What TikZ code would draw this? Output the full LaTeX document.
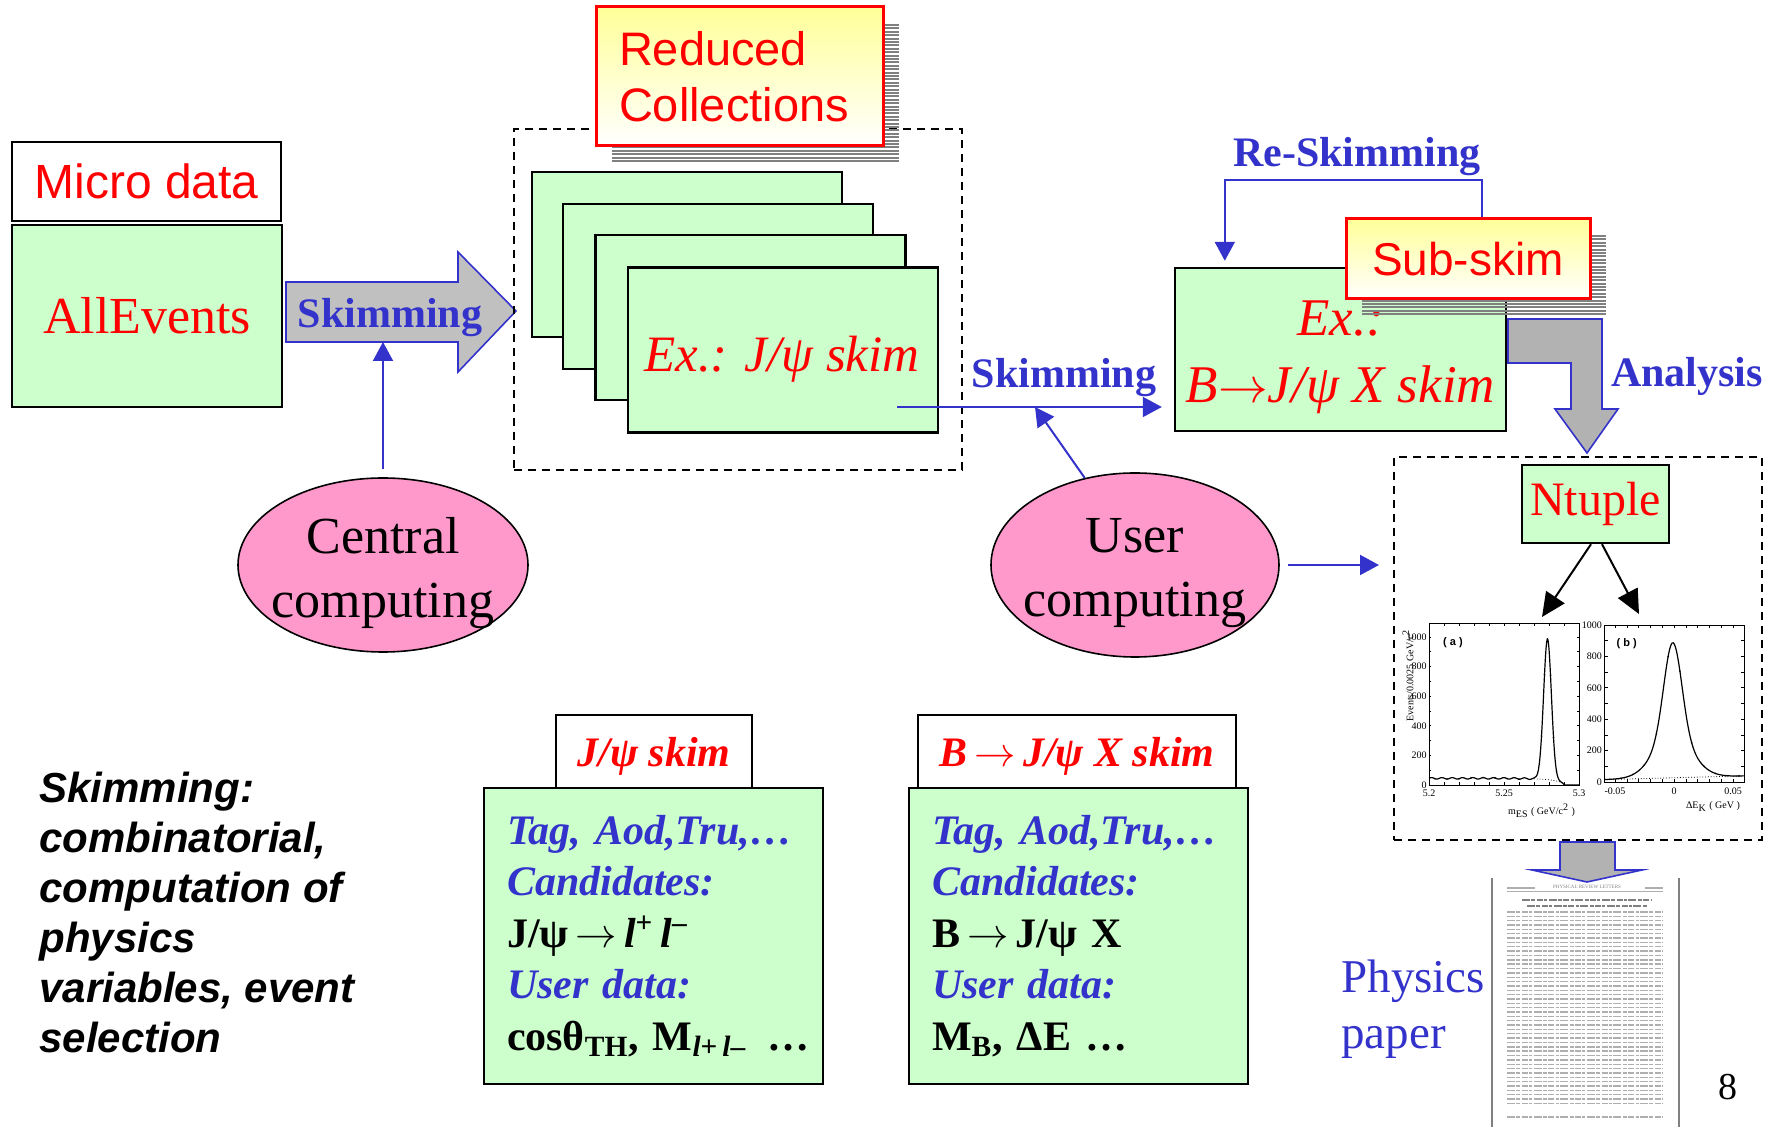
\documentclass[tikz,border=0pt]{standalone}
\usepackage{fontspec}
\setmainfont{Liberation Serif}
\setsansfont{Liberation Sans}
\usetikzlibrary{
    shapes.geometric,
    arrows.meta,
    positioning,
    calc
}
\definecolor{boxGreen}{RGB}{204, 255, 204}
\definecolor{ovalPink}{RGB}{255, 153, 204}
\definecolor{lineBlue}{RGB}{51, 51, 204}
\definecolor{textRed}{RGB}{255, 0, 0}
\definecolor{noteYellow}{RGB}{255, 255, 153}
\definecolor{arrowGrey}{RGB}{192, 192, 192}
\definecolor{arrowGreyDark}{RGB}{178, 178, 178}
\definecolor{shadowGrey}{RGB}{128, 128, 128}
\definecolor{paperInk}{RGB}{175, 175, 175}
\tikzset{
    dataBox/.style={
        rectangle, draw=black, line width=1.2pt, fill=boxGreen,
        inner sep=0pt, text=textRed
    },
    tabBox/.style={
        rectangle, draw=black, line width=1pt, fill=white,
        inner sep=0pt, text depth=0pt,
        font=\fontsize{21pt}{25pt}\selectfont\bfseries\itshape, text=textRed
    },
    noteBox/.style={
        rectangle, draw=textRed, line width=1.5pt,
        top color=noteYellow, bottom color=white,
        inner sep=0pt, font=\fontsize{23.5pt}{28pt}\selectfont\sffamily,
        text=textRed
    },
    computeOval/.style={
        ellipse, draw=black, line width=0.8pt, fill=ovalPink, inner sep=0pt
    },
    ovalText/.style={
        align=center, inner sep=0pt, font=\fontsize{26pt}{32pt}\selectfont
    },
    dashBox/.style={
        rectangle, draw=black, line width=1pt,
        dash pattern=on 4pt off 3pt, inner sep=0pt
    },
    flowArrow/.style={
        -{Triangle[length=9.5pt,width=10pt]},
        line width=1pt, draw=lineBlue
    },
    plotArrow/.style={
        -{Triangle[length=12pt,width=11pt]},
        line width=1pt, draw=black
    },
    fatArrow/.style={
        draw=lineBlue, line width=0.8pt, fill=arrowGrey
    },
    blueLabel/.style={
        font=\fontsize{21pt}{25pt}\selectfont\bfseries,
        text=lineBlue, inner sep=0pt
    },
    shadowLine/.style={
        draw=shadowGrey, line width=1pt
    },
    tickLabel/.style={
        font=\fontsize{5pt}{6pt}\selectfont, inner sep=1pt
    },
    paperLine/.style={
        draw=paperInk, line width=0.7pt,
        dash pattern=on 4pt off 0.7pt on 2pt off 0.7pt on 3pt off 0.7pt on 1.5pt off 0.7pt
    },
}

\begin{document}
\begin{tikzpicture}[x=0.5pt, y=-0.5pt]

    \useasboundingbox (0,0) rectangle (1774,1127);

    % ----------------------------------------------------------
    % MICRO DATA / ALLEVENTS
    % ----------------------------------------------------------
    \node[rectangle, draw=black, line width=1.2pt, fill=white, inner sep=0pt,
          minimum width=134.5pt, minimum height=39.5pt,
          font=\fontsize{24pt}{28pt}\selectfont\sffamily, text=textRed]
          at (146.5, 181.5) (microData) {Micro data};
    \node[dataBox, minimum width=135pt, minimum height=91pt,
          font=\fontsize{26pt}{30pt}\selectfont]
          at (147, 316) (allEvents) {AllEvents};

    % big skimming arrow
    \draw[fatArrow]
        (286,282) -- (458,282) -- (458,252) -- (516,311)
        -- (458,372) -- (458,342) -- (286,342) -- cycle;
    \node[blueLabel, anchor=base] at (390,328) (skimLabel) {Skimming};
    \coordinate (skimArrowFoot) at (383,342);

    % ----------------------------------------------------------
    % SKIM COLLECTIONS
    % ----------------------------------------------------------
    \node[dashBox, minimum width=224pt, minimum height=170.5pt]
          at (738, 299.5) (collBox) {};

    \node[dataBox, minimum width=155pt, minimum height=82.5pt] at (687, 254.5)   (skimA) {};
    \node[dataBox, minimum width=155pt, minimum height=82.5pt] at (718, 286.5)   (skimB) {};
    \node[dataBox, minimum width=155pt, minimum height=82.5pt] at (750.5, 317.5) (skimC) {};
    \node[dataBox, minimum width=155pt, minimum height=82.5pt] at (783, 350)     (skimD) {};
    \node[anchor=base, inner sep=0pt, text=textRed,
          font=\fontsize{25.5pt}{30pt}\selectfont\itshape]
          at (782, 372) (skimDText) {Ex.: J/ψ skim};

    % reduced collections note
    \foreach \yy in {25,28.4,...,162}
        \draw[shadowLine] (612,\yy) -- (899,\yy);
    \node[noteBox, minimum width=143.5pt, minimum height=69.5pt,
          text width=120.5pt, align=left]
          at (739.5, 76.5) (reducedColl) {Reduced\\Collections};

    % ----------------------------------------------------------
    % CENTRAL COMPUTING
    % ----------------------------------------------------------
    \node[computeOval, minimum width=145pt, minimum height=87pt]
          at (383, 565) (central) {};
    \node[ovalText] at (383, 573) (centralText) {Central\\computing};
    \draw[flowArrow, shorten <=4pt] (central.north) -- (skimArrowFoot);

    % ----------------------------------------------------------
    % B -> J/psi X SKIM
    % ----------------------------------------------------------
    \node[dataBox, minimum width=165.5pt, minimum height=81.5pt]
          at (1340.5, 349.5) (exB) {};
    \node[align=center, inner sep=0pt, text=textRed,
          font=\fontsize{26.5pt}{33.5pt}\selectfont\itshape]
          at (1340.5, 357) (exBText) {Ex.:\\B$\rightarrow$J/ψ X skim};

    \coordinate (skimStart) at (897, 407);
    \draw[flowArrow, shorten >=6pt] (skimStart) -- (skimStart -| exB.west);
    \node[blueLabel, anchor=base] at (1064, 388) (skimLabelB) {Skimming};

    % sub-skim note
    \foreach \yy in {236,239.4,...,316}
        \draw[shadowLine] (1362,\yy) -- (1606,\yy);
    \node[noteBox, minimum width=122pt, minimum height=40pt,
          font=\fontsize{23pt}{27pt}\selectfont\sffamily]
          at (1468, 259) (subSkim) {Sub-skim};

    % re-skimming loop
    \node[blueLabel, anchor=base] at (1357, 167) (reSkimLabel) {Re-Skimming};
    \draw[flowArrow, shorten >=3pt]
        ([xshift=7pt]subSkim.north) -- ++(0,-37)
        -| ([xshift=25.5pt]exB.north west);

    % analysis arrow
    \draw[fatArrow, fill=arrowGreyDark]
        (1508,319) -- (1602,319) -- (1602,409) -- (1618,409)
        -- (1587,453) -- (1555,409) -- (1571,409) -- (1571,363)
        -- (1508,363) -- cycle;
    \node[blueLabel, anchor=base] at (1687, 387) (analysisLabel) {Analysis};

    % ----------------------------------------------------------
    % USER COMPUTING
    % ----------------------------------------------------------
    \node[computeOval, minimum width=144pt, minimum height=92pt]
          at (1135, 565) (userComp) {};
    \node[ovalText] at (1135, 573) (userText) {User\\computing};
    \coordinate (skimJoin) at (1035, 407);
    \draw[flowArrow] (userComp.120) -- (skimJoin);

    % ----------------------------------------------------------
    % NTUPLE AND PLOTS
    % ----------------------------------------------------------
    \node[dashBox, minimum width=184pt, minimum height=191.5pt]
          at (1578, 648.5) (ntupleBox) {};
    \draw[flowArrow, shorten <=4pt, shorten >=7pt]
        (userComp.east) -- (userComp.east -| ntupleBox.west);

    \node[dataBox, minimum width=73.5pt, minimum height=39pt,
          font=\fontsize{24pt}{28pt}\selectfont]
          at (1595.5, 504) (ntuple) {Ntuple};
    \coordinate (plotATip) at (1542, 617);
    \coordinate (plotBTip) at (1639, 614);
    \draw[plotArrow] ([xshift=-2.25pt]ntuple.south) -- (plotATip);
    \draw[plotArrow] ([xshift=3.25pt]ntuple.south) -- (plotBTip);

    % plot (a): m_ES
    \begin{scope}[shift={(1429,785)}, x=7.5pt, y=7.4pt]
        \draw[line width=0.4pt] (0,0) rectangle (10,10.95);
        \foreach \ii in {1,...,9} {
            \draw[line width=0.3pt] (\ii,0) -- (\ii,0.2);
            \draw[line width=0.3pt] (\ii,10.95) -- (\ii,10.75);
        }
        \foreach \jj in {1,...,10} {
            \draw[line width=0.3pt] (0,\jj) -- (0.15,\jj);
            \draw[line width=0.3pt] (10,\jj) -- (9.85,\jj);
        }
        \foreach \jj/\lab in {0/0,2/200,4/400,6/600,8/800,10/1000}
            \node[tickLabel, anchor=east] at (0,\jj) (tickAy\jj) {\lab};
        \foreach \ii/\lab in {0/5.2,5/5.25,10/5.3}
            \node[tickLabel, anchor=north] at (\ii,-0.2) (tickAx\ii) {\lab};
        \draw[line width=0.4pt, densely dotted]
            plot[domain=7:9, samples=30, smooth]
            (\x, {0.45*sqrt(max(0,1-(\x/9)^8))});
        \draw[line width=0.6pt]
            plot[domain=0:10, samples=200, smooth]
            (\x, {0.45*sqrt(max(0,1-(\x/9)^8)) + 0.05*sin(\x*523)*(\x<7.2)
                  + 9.5*exp(max(-20,-((\x-7.9)*(\x-7.9))/0.1352))});
        \foreach \px in {0.4,1.2,...,6.8}
            \fill (\px, {0.45 + 0.05*sin(\px*523)}) circle (0.45pt);
        \foreach \px in {7.5,7.7,7.9,8.1,8.3,8.5} {
            \pgfmathsetmacro{\py}{0.45*sqrt(max(0,1-(\px/9)^8))
                  + 9.5*exp(max(-20,-((\px-7.9)*(\px-7.9))/0.1352))}
            \fill (\px,\py) circle (0.45pt);
        }
        \node[font=\fontsize{5.5pt}{6pt}\selectfont\bfseries\sffamily, inner sep=0pt]
            at (1.6,9.6) (plotATag) {( a )};
        \node[tickLabel, anchor=north] at (7.5,-1.1) (plotAxTitle)
            {m\textsubscript{ES} ( GeV/c\textsuperscript{2} )};
        \node[tickLabel, rotate=90] at (-1.4,7.4) (plotAyTitle)
            {Events/0.0025 GeV/c\textsuperscript{2}};
    \end{scope}

    % plot (b): Delta E
    \begin{scope}[shift={(1674,782)}, x=5.9pt, y=7.85pt]
        \draw[line width=0.4pt] (-5.9,0) rectangle (6,10);
        \foreach \ii in {-5,...,5} {
            \draw[line width=0.3pt] (\ii,0) -- (\ii,0.2);
            \draw[line width=0.3pt] (\ii,10) -- (\ii,9.8);
        }
        \foreach \jj in {1,...,9} {
            \draw[line width=0.3pt] (-5.9,\jj) -- (-5.6,\jj);
            \draw[line width=0.3pt] (6,\jj) -- (5.7,\jj);
        }
        \foreach \jj/\lab in {0/0,2/200,4/400,6/600,8/800,10/1000}
            \node[tickLabel, anchor=east] at (-5.9,\jj) (tickBy\jj) {\lab};
        \foreach \ii/\lab in {-5/-0.05,0/0,5/0.05}
            \node[tickLabel, anchor=north] at (\ii,-0.2) (tickBx\ii) {\lab};
        \draw[line width=0.4pt, densely dotted]
            plot[domain=-5.9:6, samples=20] (\x, {0.27+0.02*(\x)});
        \draw[line width=0.6pt]
            plot[domain=-5.9:6, samples=160, smooth]
            (\x, {0.27 + 0.02*(\x)
                  + 6.0*exp(max(-20,-((\x+0.1)*(\x+0.1))/1.125))
                  + 2.6*exp(max(-20,-((\x+0.1)*(\x+0.1))/5.12))});
        \foreach \px in {-5.5,-4.5,...,5.5} {
            \pgfmathsetmacro{\py}{0.27 + 0.02*(\px)
                  + 6.0*exp(max(-20,-((\px+0.1)*(\px+0.1))/1.125))
                  + 2.6*exp(max(-20,-((\px+0.1)*(\px+0.1))/5.12))}
            \fill (\px,\py) circle (0.45pt);
        }
        \node[font=\fontsize{5.5pt}{6pt}\selectfont\bfseries\sffamily, inner sep=0pt]
            at (-4.0,8.8) (plotBTag) {( b )};
        \node[tickLabel, anchor=north] at (3.3,-1.1) (plotBxTitle)
            {ΔE\textsubscript{K} ( GeV )};
    \end{scope}

    % ----------------------------------------------------------
    % PHYSICS PAPER
    % ----------------------------------------------------------
    \draw[fatArrow, fill=arrowGreyDark]
        (1560,842) -- (1615,842) -- (1615,870) -- (1642,870)
        -- (1587,882) -- (1532,870) -- (1560,870) -- cycle;

    \draw[gray, line width=0.6pt] (1492,878) -- (1492,1127);
    \draw[gray, line width=0.6pt] (1679,878) -- (1679,1127);
    \node[font=\fontsize{2.5pt}{3pt}\selectfont, inner sep=0pt, text=gray]
        at (1587, 887) (paperHead) {PHYSICAL REVIEW LETTERS};
    \draw[paperInk, line width=0.8pt] (1507,888) -- (1535,888);
    \draw[paperInk, line width=0.8pt] (1645,888) -- (1663,888);
    \draw[paperInk, line width=0.5pt] (1507,892) -- (1663,892);
    \draw[paperLine, draw=gray, line width=1pt] (1522,900) -- (1652,900);
    \draw[paperLine, draw=gray, line width=1pt] (1527,906) -- (1647,906);
    \foreach \k in {0,...,44}
        \draw[paperLine] (1507,{912+\k*4.35}) -- (1663,{912+\k*4.35});
    \draw[paperLine] (1507,1117) -- (1663,1117);

    \node[anchor=north west, inner sep=0pt, align=left, text=lineBlue,
          font=\fontsize{23.5pt}{28pt}\selectfont]
          at (1341, 959) (paperLabel) {Physics\\paper};

    \node[anchor=base, inner sep=0pt, font=\fontsize{19pt}{22pt}\selectfont]
          at (1728, 1100) (pageNum) {8};

    % ----------------------------------------------------------
    % NOTE AND SKIM CONTENTS
    % ----------------------------------------------------------
    \node[anchor=north west, inner sep=0pt, align=left,
          font=\fontsize{21pt}{25pt}\selectfont\sffamily\bfseries\itshape]
          at (39, 772) (skimNote)
          {Skimming:\\combinatorial,\\computation of\\physics\\variables, event\\selection};

    \node[tabBox, minimum width=98pt, minimum height=36.5pt]
          at (654, 751.5) (jpsiTab) {J/ψ skim};
    \node[dataBox, minimum width=169.5pt, minimum height=148pt,
          text width=146.5pt, align=left, text=black,
          font=\fontsize{21pt}{25.75pt}\selectfont\bfseries]
          at (653.5, 936) (jpsiBox)
          {\textcolor{lineBlue}{\itshape Tag, Aod,Tru,…}\\
           \textcolor{lineBlue}{\itshape Candidates:}\\
           J/ψ\,$\rightarrow$\,\textit{l}\textsuperscript{+}\,\textit{l}\textsuperscript{–}\\
           \textcolor{lineBlue}{\itshape User data:}\\
           \mbox{cosθ\textsubscript{TH}, M\textsubscript{\textit{l}+\,\textit{l}–}\enspace…}};

    \node[tabBox, minimum width=159pt, minimum height=36.5pt]
          at (1077, 751.5) (bTab) {B\,$\rightarrow$\,J/ψ X skim};
    \node[dataBox, minimum width=169.5pt, minimum height=148pt,
          text width=146.5pt, align=left, text=black,
          font=\fontsize{21pt}{25.75pt}\selectfont\bfseries]
          at (1078.5, 936) (bBox)
          {\textcolor{lineBlue}{\itshape Tag, Aod,Tru,…}\\
           \textcolor{lineBlue}{\itshape Candidates:}\\
           B\,$\rightarrow$\,J/ψ X\\
           \textcolor{lineBlue}{\itshape User data:}\\
           M\textsubscript{B}, ΔE …};

\end{tikzpicture}
\end{document}
